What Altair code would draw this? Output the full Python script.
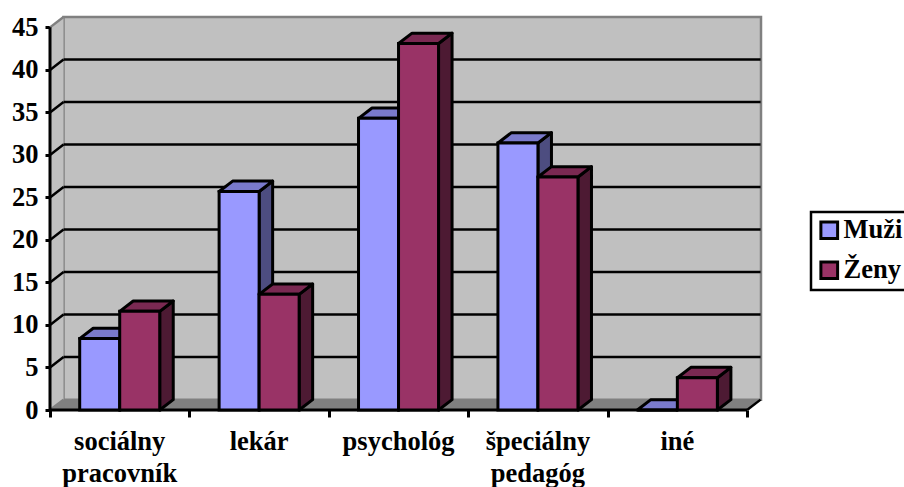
import altair as alt
import pandas as pd

categories = ["sociálny\npracovník", "lekár", "psychológ", "špeciálny\npedagóg", "iné"]
muzi = [8.4, 25.7, 34.3, 31.4, 0]
zeny = [11.6, 13.6, 43.1, 27.4, 3.8]
y_ticks = [0, 5, 10, 15, 20, 25, 30, 35, 40, 45]
x_ticks = [0, 1, 2, 3, 4, 5]

FONT = "Liberation Serif"
FONT_SIZE = 26.5
OUTLINE = 3
DX, DY = 0.097, 1.22          # depth of the 3-D box in axis units
BAR_L, BAR_M, BAR_R = 0.213, 0.5, 0.787
XMAX, YMAX = 5.1, 46.22
WALL, FLOOR, EDGE = "#c0c0c0", "#808080", "#808080"
SERIES = {"Muži": ("#9999ff", "#7a7acc", "#4d4d80"),
          "Ženy": ("#993366", "#7a2952", "#4d1a33")}

x_scale = alt.Scale(domain=[0, XMAX], nice=False, zero=False)
y_scale = alt.Scale(domain=[0, YMAX], nice=False, zero=False)

# Axes: tick marks and labels only, the lines are drawn as rules below
axis_y = alt.Axis(values=y_ticks, grid=False, domain=False, tickSize=5, tickWidth=OUTLINE,
                  tickColor="black", labelFont=FONT, labelFontSize=FONT_SIZE, labelFontWeight="bold",
                  labelColor="black", labelPadding=7, labelOverlap=False,
                  labelFlush=False)
axis_x = alt.Axis(values=x_ticks, grid=False, domain=False, tickSize=7, tickWidth=OUTLINE,
                  tickColor="black", labels=False)


def X(field="x"):
    return alt.X(f"{field}:Q", scale=x_scale, axis=axis_x, title=None)


def Y(field="y"):
    return alt.Y(f"{field}:Q", scale=y_scale, axis=axis_y, title=None, stack=None)


def rules(rows, color, width):
    return alt.Chart(pd.DataFrame(rows)).mark_rule(color=color, strokeWidth=width).encode(
        x=X("x"), x2="x2", y=Y("y"), y2="y2")


def side_area(rows, **style):
    return alt.Chart(pd.DataFrame(rows)).mark_area(orient="vertical", strokeJoin="round", **style).encode(
        x=X("x"), y=Y("y"), y2="y2", detail="id:N")


def top_area(rows, **style):
    return alt.Chart(pd.DataFrame(rows)).mark_area(orient="horizontal", strokeJoin="round", **style).encode(
        y=Y("y"), x=X("x"), x2="x2", detail="id:N")


# Back wall
wall = alt.Chart(pd.DataFrame([{"x": DX, "x2": XMAX, "y": DY, "y2": YMAX}])).mark_rect(
    fill=WALL, stroke=EDGE, strokeWidth=2.5).encode(
    x=X("x"), x2="x2", y=Y("y"), y2="y2")

# Left wall and floor
left_wall = side_area([
    {"id": 0, "x": 0, "y": y_ticks[-1], "y2": 0},
    {"id": 0, "x": DX, "y": y_ticks[-1] + DY, "y2": DY},
], fill=WALL)
floor = top_area([
    {"id": 0, "y": 0, "x": 0, "x2": x_ticks[-1]},
    {"id": 0, "y": DY, "x": DX, "x2": x_ticks[-1] + DX},
], fill=FLOOR)

# Gridlines along the back wall and across the left wall
back_grid = rules([{"x": DX, "x2": x_ticks[-1] + DX, "y": v + DY, "y2": v + DY}
                   for v in y_ticks[1:-1]], "black", 2.5)
side_grid = rules([{"x": 0, "x2": DX, "y": v, "y2": v + DY}
                   for v in y_ticks[1:-1]], "black", 2.5)
grey_edges = rules([{"x": 0, "x2": DX, "y": y_ticks[-1], "y2": y_ticks[-1] + DY},
                    {"x": 0, "x2": DX, "y": 0, "y2": DY}], EDGE, 2.5)
corner = rules([{"x": x_ticks[-1], "x2": x_ticks[-1] + DX, "y": 0, "y2": DY}], "black", 2.5)

# One group of faces per series, painted back to front
series_layers = []
for name, values, left, right in [("Muži", muzi, BAR_L, BAR_M), ("Ženy", zeny, BAR_M, BAR_R)]:
    front_c, top_c, side_c = SERIES[name]
    side_rows, top_rows, front_rows = [], [], []
    for i, v in enumerate(values):
        xl, xr = i + left, i + right
        side_rows += [{"id": i, "x": xr, "y": v, "y2": 0},
                      {"id": i, "x": xr + DX, "y": v + DY, "y2": DY}]
        top_rows += [{"id": i, "y": v, "x": xl, "x2": xr},
                     {"id": i, "y": v + DY, "x": xl + DX, "x2": xr + DX}]
        front_rows.append({"series": name, "x": xl, "x2": xr, "y": v, "y2": 0})
    series_layers += [
        side_area(side_rows, fill=side_c, stroke="black", strokeWidth=OUTLINE),
        top_area(top_rows, fill=top_c, stroke="black", strokeWidth=OUTLINE),
        alt.Chart(pd.DataFrame(front_rows)).mark_bar(stroke="black", strokeWidth=OUTLINE).encode(
            x=X("x"), x2="x2", y=Y("y"), y2="y2",
            color=alt.Color("series:N", title=None,
                            scale=alt.Scale(domain=list(SERIES),
                                            range=[SERIES[s][0] for s in SERIES]),
                            legend=alt.Legend(
                                orient="none", legendX=761, legendY=195,
                                fillColor="white", strokeColor="black", padding=5,
                                symbolType="square", symbolSize=280,
                                symbolStrokeColor="black", symbolStrokeWidth=OUTLINE,
                                labelFont=FONT, labelFontSize=FONT_SIZE, labelFontWeight="bold",
                                labelColor="black", labelOffset=1, rowPadding=10))),
    ]

# Black axis lines in front of the floor
axis_lines = rules([{"x": 0, "x2": 0, "y": 0, "y2": y_ticks[-1]},
                    {"x": 0, "x2": x_ticks[-1], "y": 0, "y2": 0}], "black", OUTLINE)

cat_labels = alt.Chart(pd.DataFrame({"label": categories,
                                     "x": [i + 0.5 for i in range(len(categories))]})
                       ).mark_text(font=FONT, fontSize=FONT_SIZE, fontWeight="bold", color="black",
                                   align="center", baseline="alphabetic", lineBreak="\n",
                                   lineHeight=32).encode(
    x=X("x"), y=alt.value(433), text="label:N")

chart = alt.layer(wall, left_wall, floor, back_grid, side_grid, grey_edges, corner,
                  axis_lines, *series_layers, cat_labels).properties(
    width=711, height=393,
    padding={"left": 50, "top": 17, "right": 143, "bottom": 77},
    autosize=alt.AutoSizeParams(type="none"),
    background="white",
).configure_view(stroke=None).configure_legend(strokeWidth=2.5)

chart.save("out.html", embed_options={"renderer": "svg", "actions": False})
